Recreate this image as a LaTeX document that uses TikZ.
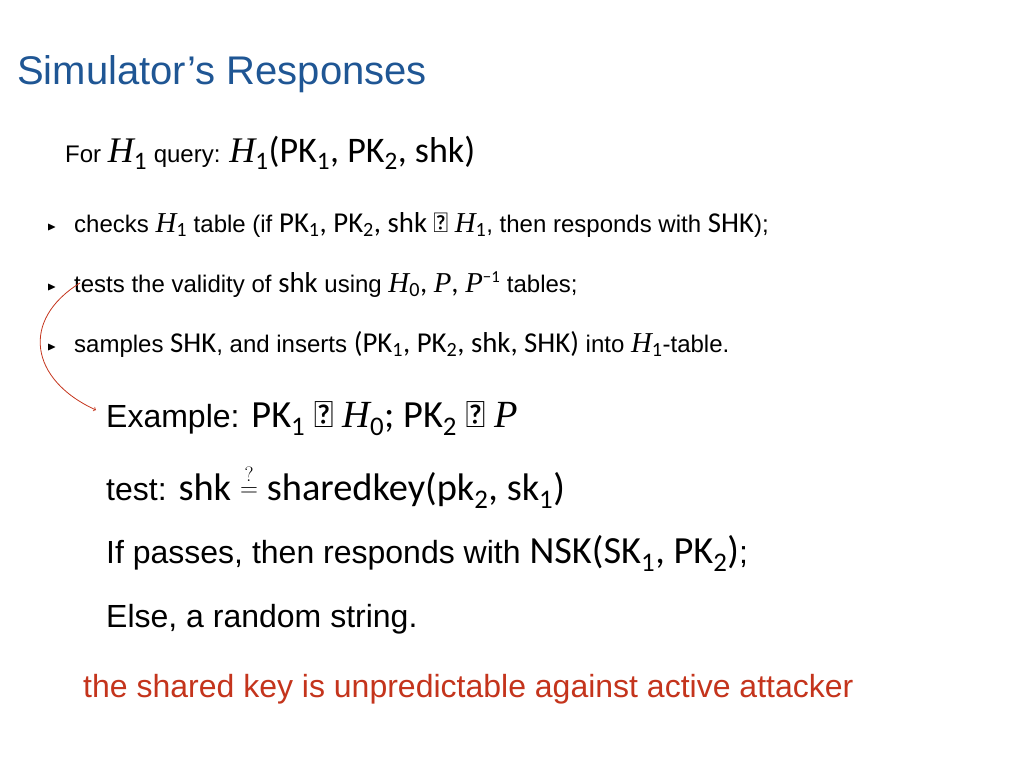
\documentclass[tikz,border=0pt]{standalone}
\usepackage{amssymb}
\usepackage{fontspec}
\setmainfont{Liberation Sans}
\newfontfamily\calfont{Carlito}
\newfontfamily\serfont{Liberation Serif}
\usetikzlibrary{positioning}
\definecolor{titleblue}{RGB}{31,86,148}
\definecolor{accred}{RGB}{196,52,28}
\newcommand{\cf}[1]{{\calfont\fontsize{1.2em}{1.2em}\selectfont #1}}
\newcommand{\sbs}[1]{\textsubscript{\calfont #1}}
\newcommand{\hh}[1]{{\calfont\fontsize{1.2em}{1.2em}\selectfont{\serfont\itshape H}\sbs{#1}}}
\newcommand{\vv}[1]{{\fontsize{1.2em}{1.2em}\selectfont{\serfont\itshape #1}}}
\tikzset{
  line/.style={anchor=base west, inner sep=0pt},
  small/.style={line, font=\fontsize{24}{28}\selectfont},
  big/.style={line, font=\fontsize{32}{36}\selectfont},
  bullet/.style={anchor=base west, inner sep=0pt, font=\fontsize{12}{14}\selectfont}
}
\begin{document}
\begin{tikzpicture}[x=1pt,y=-1pt]
\useasboundingbox (0,0) rectangle (1024,768);
% title
\node[line, font=\fontsize{40}{44}\selectfont, text=titleblue] (title) at (17,84) {Simulator’s Responses};
\node[small] (query) at (65,162) {For {\fontsize{30}{33}\selectfont \hh1} query: {\fontsize{30}{33}\selectfont \hh1\cf{(PK\sbs1, PK\sbs2, shk)}}};
% bullets
\foreach \y/\n in {232/a,292/b,352/c}
  \node[bullet] (dot\n) at (47,\y-2) {$\blacktriangleright$};
\node[small] (ba) at (74,232) {checks \hh1 table (if \cf{PK\sbs1, PK\sbs2, shk ∈} \hh1, then responds with \cf{SHK});};
\node[small] (bb) at (74,292) {tests the validity of \cf{shk} using \hh0\cf{,} \vv{P}\cf{,} \vv{P}\textsuperscript{\calfont −1} tables;};
\node[small] (bc) at (74,352) {samples \cf{SHK}, and inserts \cf{(PK\sbs1, PK\sbs2, shk, SHK)} into \hh1-table.};
% example
\node[big] (ex) at (106,427) {Example: \cf{PK\sbs1 ∈} \hh0\cf{; PK\sbs2 ∈} \vv{P}};
\node[big] (test) at (106,500) {test: \cf{shk} \raisebox{0.1em}{$\stackrel{?}{=}$} \cf{sharedkey(pk\sbs2, sk\sbs1)}};
\node[big] (pass) at (106,563) {If passes, then responds with \cf{NSK(SK\sbs1, PK\sbs2)};};
\node[big] (else) at (106,627) {Else, a random string.};
\node[big, text=accred] (note) at (83,697) {the shared key is unpredictable against active attacker};
% arrow
\coordinate (from) at (80,283);
\coordinate (to) at (96,410);
\draw[accred, thick, ->] (from) .. controls (20,320) and (30,380) .. (to);
\end{tikzpicture}
\end{document}
